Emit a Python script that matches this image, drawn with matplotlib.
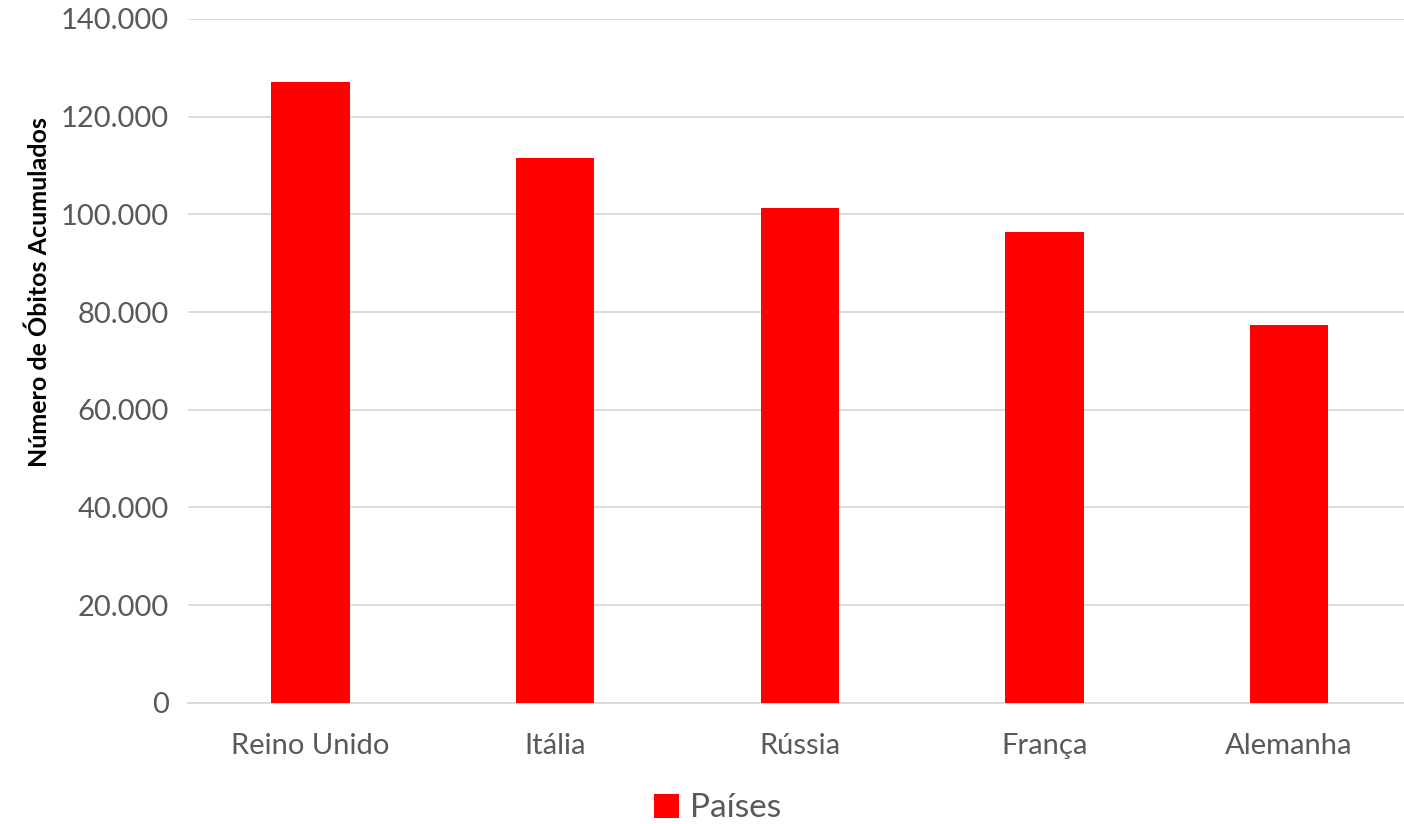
import matplotlib.pyplot as plt
from matplotlib.ticker import FuncFormatter

paises = ['Reino Unido', 'Itália', 'Rússia', 'França', 'Alemanha']
obitos = [127100, 111500, 101300, 96400, 77400]

plt.rcParams['font.family'] = ['Lato', 'DejaVu Sans']

fig = plt.figure(figsize=(14.04, 8.24), dpi=100)
ax = fig.add_axes([0.134, 0.147, 0.866, 0.830])

x = range(len(paises))
ax.bar(x, obitos, width=0.32, color='#ff0000', label='Países', zorder=3)

ax.set_ylim(0, 140000)
ax.set_yticks(range(0, 140001, 20000))
ax.yaxis.set_major_formatter(FuncFormatter(lambda v, p: f'{int(v):,}'.replace(',', '.')))
ax.set_xlim(-0.5, 4.47)
ax.set_xticks(list(x))
ax.set_xticklabels(paises)

ax.grid(axis='y', color='#d9d9d9', linewidth=1.3, zorder=0)
for s in ['top', 'right', 'left']:
    ax.spines[s].set_visible(False)
ax.spines['bottom'].set_color('#d9d9d9')
ax.spines['bottom'].set_linewidth(1.3)
ax.tick_params(axis='both', length=0, labelsize=21, labelcolor='#595959')
ax.tick_params(axis='x', pad=22)
ax.tick_params(axis='y', pad=14)

ax.set_ylabel('Número de Óbitos Acumulados', fontsize=18, fontweight='bold')
ax.yaxis.set_label_coords(-0.113, 0.60)

fig.legend(loc='center', bbox_to_anchor=(0.511, 0.019), frameon=False,
           fontsize=24, labelcolor='#595959', handlelength=0.75, handleheight=0.75,
           handletextpad=0.35, borderpad=0)

fig.savefig('out.png', dpi=100)
